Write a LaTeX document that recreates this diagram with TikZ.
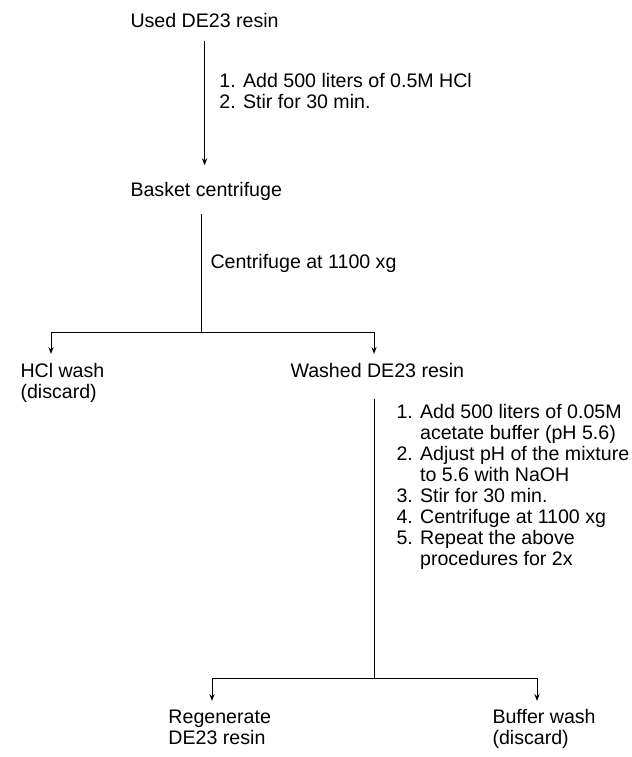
\documentclass[tikz,border=0pt]{standalone}
\usepackage{fontspec}
\setmainfont{Liberation Sans}
\usetikzlibrary{arrows.meta}
\begin{document}
\begin{tikzpicture}[x=0.5pt, y=-0.5pt, line width=0.5pt, every node/.style={inner sep=0pt}]
    \tikzset{txt/.style={anchor=base west, align=left, font=\fontsize{9.8}{10.5}\selectfont},
             flow/.style={-{Stealth[length=3.5pt,width=2.6pt]}}};
    \useasboundingbox (0,0) rectangle (632,757);
    % materials (multi-line nodes sit on their last line)
    \node[txt] (used) at (130,27) {Used DE23 resin};
    \node[txt] (basket) at (130,196) {Basket centrifuge};
    \node[txt] (hclwash) at (20,398) {HCl wash\\(discard)};
    \node[txt] (washed) at (290,377) {Washed DE23 resin};
    \node[txt] (regen) at (168,744) {Regenerate\\DE23 resin};
    \node[txt] (bufwash) at (492,744) {Buffer wash\\(discard)};
    % treatments
    \node[txt] (acid) at (219,108) {1. Add 500 liters of 0.5M HCl\\2. Stir for 30 min.};
    \node[txt] (spin) at (210,268) {Centrifuge at 1100 xg};
    \node[txt] (buffer) at (396,565) {1. Add 500 liters of 0.05M\\
        \phantom{1. }acetate buffer (pH 5.6)\\
        2. Adjust pH of the mixture\\
        \phantom{2. }to 5.6 with NaOH\\
        3. Stir for 30 min.\\
        4. Centrifuge at 1100 xg\\
        5. Repeat the above\\
        \phantom{5. }procedures for 2x};
    % branch points and arrow ends
    \coordinate (jA) at (201,332);
    \coordinate (jB) at (374,678);
    \coordinate (tHcl) at (51,354);
    \coordinate (tWash) at (374,354);
    \coordinate (tRegen) at (212,701);
    \coordinate (tBuf) at (537,701);
    {
       \path
        (used.south) edge[flow, shorten <=6.5pt, shorten >=8pt] (used.south |- basket.north)
        (basket.south -| jA) edge[shorten <=6.5pt] (jA)
        (washed.south -| jB) edge[shorten <=10.5pt] (jB)
        ;
       \draw[flow] (jA) -| (tHcl);
       \draw[flow] (jA) -| (tWash);
       \draw[flow] (jB) -| (tRegen);
       \draw[flow] (jB) -| (tBuf);
    }
\end{tikzpicture}
\end{document}
